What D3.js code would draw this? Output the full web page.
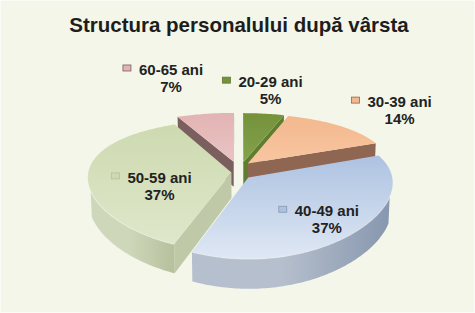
<!DOCTYPE html>
<html>
<head>
<meta charset="utf-8">
<script src="https://cdn.jsdelivr.net/npm/d3@7"></script>
<style>
html, body { margin: 0; padding: 0; background: #ffffff; }
svg { display: block; font-family: "Liberation Sans", Arial, sans-serif; }
</style>
</head>
<body>
<svg id="chart" width="475" height="313"></svg>
<script>
// data
var categories = ["20-29 ani", "30-39 ani", "40-49 ani", "50-59 ani", "60-65 ani"];
var values = [5, 14, 37, 37, 7];
var percentLabels = ["5%", "14%", "37%", "37%", "7%"];
var title = "Structura personalului după vârsta";

// styles, one entry per slice
var topLight = ["#83a24c", "#f8c6a1", "#dfe8f4", "#dfe7cb", "#e9c4c3"];
var topDark  = ["#75923b", "#f3b88e", "#adc2e1", "#cddab0", "#e2b4b3"];
var wallDark  = ["#5f7a2f", "#8e6550", "#8797af", "#b6c09c", "#7a5d5d"];
var wallLight = ["#6f8c3a", "#a27a62", "#b6bfcd", "#cfd7ba", "#8f7070"];
var cutColor  = ["#607d2f", "#8f6651", "#9aa7bc", "#c0c9a7", "#7b5e5e"];

// layout: explosion of each slice (direction in degrees, distance) and
// label spot (angle offset from the slice middle in degrees, radius)
var explodeDir = [8, 20.6, 145, 268, 345.5];
var explodeDist = [0.17, 0.156, 0.1, 0.06, 0.18];
var labelSpot = [[-1.2, 1.60], [4.1, 1.58], [3.2, 0.78], [-22.2, 0.54], [-2.1, 2.02]];

var width = 475, height = 313;
var tilt = Math.asin(0.47), depth = 0.2;
var distY = 4.5, distX = 12;
var sinT = Math.sin(tilt), cosT = Math.cos(tilt);

var xScale = d3.scaleLinear().domain([-1, 1]).range([240 - 142, 240 + 142]);
var yScale = d3.scaleLinear().domain([-1, 1]).range([197.8 + 141, 197.8 - 141]);

/**
 * perspective projection of a point of the pie (radius 1) to the screen
 */
function project(X, Y, Z) {
	var v = Y * sinT + Z * cosT,
		w = Y * cosT - Z * sinT;
	return [xScale(X * distX / (distX + w)), yScale(v * distY / (distY + w))];
}

var svg = d3.select("#chart");
var defs = svg.append("defs");

svg.append("rect")
	.attr("x", 0.5).attr("y", 0.5)
	.attr("width", width - 1).attr("height", height - 1)
	.attr("fill", "#f3f6e8")
	.attr("stroke", "#fbfcf6");

svg.append("text")
	.attr("x", 239).attr("y", 32)
	.attr("text-anchor", "middle")
	.attr("font-size", 20.5).attr("font-weight", "bold")
	.attr("fill", "#1d1d1d")
	.text(title);

var pie = d3.pie().sort(null).value(function (d) { return d; });
var rad = Math.PI / 180;

var slices = pie(values).map(function (a, i) {
	var dir = explodeDir[i] * rad;
	return {
		i: i, a0: a.startAngle, a1: a.endAngle, mid: (a.startAngle + a.endAngle) / 2,
		ox: explodeDist[i] * Math.sin(dir), oy: explodeDist[i] * Math.cos(dir)
	};
});

function rim(s, a, z) { return project(s.ox + Math.sin(a), s.oy + Math.cos(a), z); }
function apex(s, z) { return project(s.ox, s.oy, z); }
function steps(a0, a1) {
	var n = Math.max(2, Math.ceil((a1 - a0) / rad));
	return d3.range(n + 1).map(function (j) { return a0 + (a1 - a0) * j / n; });
}

var line = d3.line();
function poly(points) { return line(points) + "Z"; }

// gradients
slices.forEach(function (s) {
	var g = defs.append("linearGradient").attr("id", "top" + s.i)
		.attr("x1", 0).attr("y1", 0).attr("x2", 0).attr("y2", 1);
	g.append("stop").attr("offset", 0).attr("stop-color", topDark[s.i]);
	g.append("stop").attr("offset", 1).attr("stop-color", topLight[s.i]);

	var w = defs.append("linearGradient").attr("id", "wall" + s.i)
		.attr("x1", 0).attr("y1", 0).attr("x2", 1).attr("y2", 0);
	w.append("stop").attr("offset", 0).attr("stop-color", wallLight[s.i]);
	w.append("stop").attr("offset", 0.45).attr("stop-color", wallLight[s.i]);
	w.append("stop").attr("offset", 1).attr("stop-color", wallDark[s.i]);
});

// back slices first
var order = slices.slice().sort(function (a, b) { return Math.cos(b.mid) - Math.cos(a.mid); });
var camY = -distY * cosT;

order.forEach(function (s) {
	var g = svg.append("g").attr("class", "slice");

	// cut faces
	var startVisible = (-s.ox) * (-Math.cos(s.a0)) + (camY - s.oy) * Math.sin(s.a0) > 0;
	var endVisible = (-s.ox) * Math.cos(s.a1) + (camY - s.oy) * (-Math.sin(s.a1)) > 0;
	[[s.a0, startVisible], [s.a1, endVisible]].forEach(function (f) {
		if (!f[1]) return;
		g.append("path")
			.attr("d", poly([apex(s, depth), rim(s, f[0], depth), rim(s, f[0], 0), apex(s, 0)]))
			.attr("fill", cutColor[s.i]);
	});

	// outer wall, front part only
	var seen = steps(s.a0, s.a1).filter(function (a) {
		return -1 - s.ox * Math.sin(a) + (camY - s.oy) * Math.cos(a) > 0;
	});
	if (seen.length > 1) {
		var upper = seen.map(function (a) { return rim(s, a, depth); });
		var lower = seen.slice().reverse().map(function (a) { return rim(s, a, 0); });
		g.append("path")
			.attr("d", poly(upper.concat(lower)))
			.attr("fill", "url(#wall" + s.i + ")");
		g.append("path")
			.attr("d", line(upper))
			.attr("fill", "none")
			.attr("stroke", "#ffffff")
			.attr("stroke-opacity", 0.55)
			.attr("stroke-width", 1.5);
	}

	// top face
	var top = [apex(s, depth)].concat(steps(s.a0, s.a1).map(function (a) { return rim(s, a, depth); }));
	g.append("path")
		.attr("d", poly(top))
		.attr("fill", "url(#top" + s.i + ")");
});

// labels
slices.forEach(function (s) {
	var spot = labelSpot[s.i];
	var a = s.mid + spot[0] * rad;
	var p = project(s.ox + spot[1] * Math.sin(a), s.oy + spot[1] * Math.cos(a), depth);

	var label = svg.append("g").attr("class", "label");
	var t1 = label.append("text")
		.attr("x", p[0]).attr("y", p[1] - 4)
		.attr("text-anchor", "middle")
		.attr("font-size", 15).attr("font-weight", "bold")
		.attr("fill", "#222222")
		.text(categories[s.i]);
	label.append("text")
		.attr("x", p[0]).attr("y", p[1] + 13)
		.attr("text-anchor", "middle")
		.attr("font-size", 15).attr("font-weight", "bold")
		.attr("fill", "#222222")
		.text(percentLabels[s.i]);

	var tw = t1.node().getComputedTextLength();
	label.append("rect")
		.attr("x", p[0] - tw / 2 - 16).attr("y", p[1] - 14)
		.attr("width", 8).attr("height", 6)
		.attr("fill", topDark[s.i])
		.attr("stroke", wallDark[s.i])
		.attr("stroke-width", 0.8);
});
</script>
</body>
</html>
